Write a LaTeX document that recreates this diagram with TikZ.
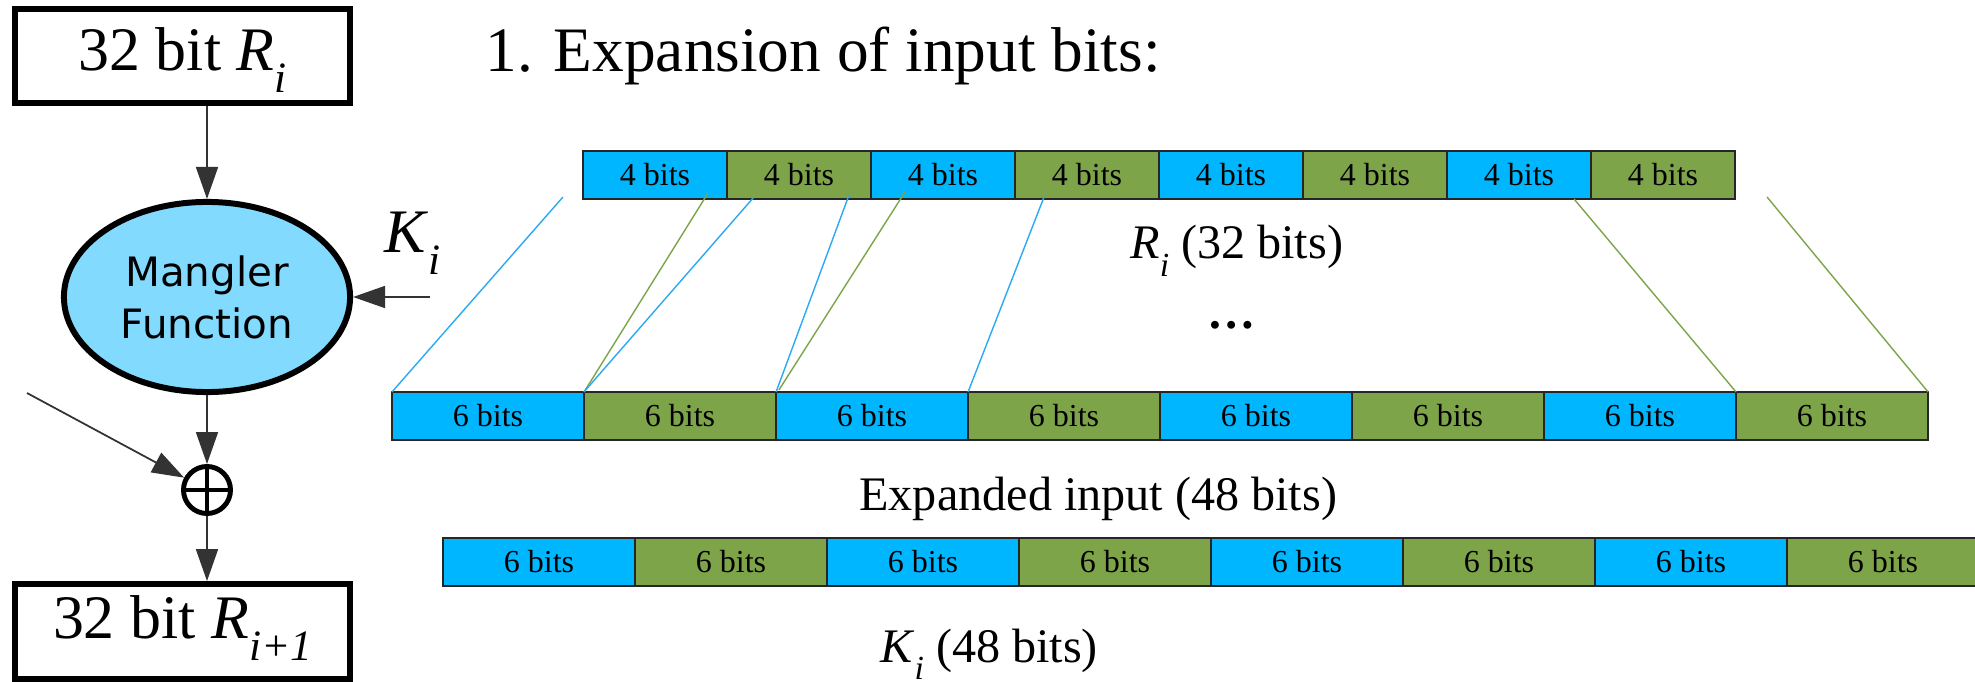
\documentclass[tikz,border=0pt]{standalone}
\usepackage{fontspec}
\setmainfont{Liberation Serif}
\newfontfamily\manglerfont{DejaVu Sans}
\usepackage{graphicx}
\usepackage{tikz}
\usetikzlibrary{arrows.meta,shapes.geometric,calc}
\newcommand{\lsub}[1]{\raisebox{-0.37em}{\scalebox{0.7}{\itshape #1}}}
\definecolor{bitblue}{HTML}{00B7FF}
\definecolor{bitgreen}{HTML}{7EA44A}
\definecolor{mangblue}{HTML}{82DBFF}
\definecolor{wireblue}{HTML}{2BA9F2}
\definecolor{wiregreen}{HTML}{7EA44A}

\begin{document}
\begin{tikzpicture}[x=0.01cm, y=-0.01cm,
    arr/.style={-{Triangle[length=3.2mm,width=2.2mm]}, draw=black!80, line width=0.5pt},
    regbox/.style={draw, line width=1.7pt, minimum width=3.35cm, minimum height=0.94cm,
        font=\fontsize{17.6}{20}\selectfont, text height=12pt, text depth=4pt},
    cell/.style={draw=black!85, line width=0.6pt, minimum height=0.48cm, inner sep=0pt,
        outer sep=0pt, font=\fontsize{9.1}{11}\selectfont},
    lbl/.style={anchor=base west, font=\fontsize{13.7}{16}\selectfont},
    wire/.style={line width=0.4pt}]
    \useasboundingbox (0,0) rectangle (1975,682);
    \clip (0,0) rectangle (1975,682);

    % Round function
    \node[regbox] (rin) at (182.5,56) {32 bit \textit{R}\lsub{i}};
    \node[ellipse, draw, line width=1.7pt, fill=mangblue, minimum width=2.86cm,
        minimum height=1.90cm, inner sep=0pt, align=center,
        font=\manglerfont\fontsize{11.5}{14.8}\selectfont] (mangler) at (207,297) {Mangler\\Function};
    \node[circle, draw, line width=1.4pt, minimum size=4.7mm, inner sep=0pt] (xor) at (207,490) {};
    \draw[line width=1.4pt] (xor.north) -- (xor.south) (xor.west) -- (xor.east);
    \node[regbox, text depth=8.3pt] (rout) at (182.5,631.5) {32 bit \textit{R}\lsub{i+1}};
    \node[anchor=base west, font=\fontsize{17.6}{20}\selectfont] (klbl) at (372,252) {\textit{K}\lsub{i}};
    \coordinate (kin) at (430,297);
    \coordinate (lin) at (27,393);

    \draw[arr] (mangler.north |- rin.south) -- (mangler.north);
    \draw[arr] (kin) -- (mangler);
    \draw[arr] (mangler) -- (xor);
    \draw[arr] (lin) -- (xor);
    \draw[arr] (xor) -- (xor |- rout.north);

    % Expansion of input bits
    \node[anchor=base west, font=\fontsize{18}{22}\selectfont] (title) at (473,72) {1. Expansion of input bits:};
    \foreach \n in {1,...,8}{
        \ifodd\n \def\bitcol{bitblue}\else \def\bitcol{bitgreen}\fi
        \node[cell, fill=\bitcol, minimum width=1.44cm] (t\n) at ({583+144*(\n-0.5)},175) {4 bits};
        \node[cell, fill=\bitcol, minimum width=1.92cm] (e\n) at ({392+192*(\n-0.5)},416) {6 bits};
        \node[cell, fill=\bitcol, minimum width=1.92cm] (k\n) at ({443+192*(\n-0.5)},562) {6 bits};
    }
    \node[lbl] (rlbl) at (1118,259) {\textit{R}\lsub{i} (32 bits)};
    \node[anchor=base, font=\fontsize{13.7}{16}\selectfont\bfseries] (dots) at (1232,328) {\ldots};
    \node[lbl] (elbl) at (847,510) {Expanded input (48 bits)};
    \node[lbl] (kbits) at (868,662) {\textit{K}\lsub{i} (48 bits)};

    % expansion wires
    \draw[wire, wireblue] ($(t1.south west)+(-20,-2)$) -- (e1.north west);
    \draw[wire, wiregreen] ($(t1.south east)+(-19,-6)$) -- (e1.north east);
    \draw[wire, wireblue] ($(t2.south west)+(27,-2)$) -- (e2.north west);
    \draw[wire, wireblue] ($(t2.south east)+(-22,-4)$) -- (e2.north east);
    \draw[wire, wiregreen] ($(t3.south west)+(34,-7)$) -- ($(e3.north west)+(3,-2)$);
    \draw[wire, wireblue] ($(t3.south east)+(29,-2)$) -- (e3.north east);
    \draw[wire, wiregreen] ($(t7.south east)+(-17,0)$) -- (e7.north east);
    \draw[wire, wiregreen] ($(t8.south east)+(32,-2)$) -- (e8.north east);
\end{tikzpicture}
\end{document}
